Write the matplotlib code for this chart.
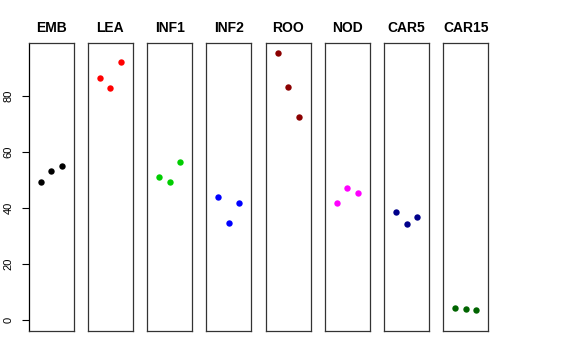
import matplotlib
matplotlib.use("Agg")
import matplotlib.pyplot as plt

plt.rcParams['font.family'] = ['Liberation Sans', 'DejaVu Sans']

groups = ["EMB", "LEA", "INF1", "INF2", "ROO", "NOD", "CAR5", "CAR15"]
colors = ["#000000", "#FF0000", "#00CD00", "#0000FF", "#8B0000", "#FF00FF", "#00008B", "#006400"]
replicates = [1, 2, 3]
emb = [49.5, 53.2, 54.9]
lea = [86.5, 82.7, 92.0]
inf1 = [51.2, 49.2, 56.5]
inf2 = [44.1, 34.6, 41.8]
roo = [95.2, 83.3, 72.5]
nod = [41.8, 47.3, 45.4]
car5 = [38.8, 34.5, 36.9]
car15 = [4.5, 3.9, 3.7]
values = [emb, lea, inf1, inf2, roo, nod, car5, car15]
yticks = [0, 20, 40, 60, 80]

W, H = 576, 360
fig = plt.figure(figsize=(W / 100, H / 100), dpi=100)

ymax = max(max(v) for v in values)
ylo, yhi = 0 - 0.04 * ymax, ymax + 0.04 * ymax

left0, step, pw = 28.7, 59.23, 45.0
top, bottom = 42.7, 331.0
for i, (g, c, v) in enumerate(zip(groups, colors, values)):
    left = left0 + step * i
    ax = fig.add_axes([left / W, 1 - bottom / H, pw / W, (bottom - top) / H])
    ax.plot(replicates, v, 'o', color=c, markersize=4.6, markeredgewidth=0)
    ax.set_xlim(-0.16, 4.16)
    ax.set_ylim(ylo, yhi)
    ax.set_xticks([])
    for s in ax.spines.values():
        s.set_color("#333333")
        s.set_linewidth(0.9)
    if i == 0:
        ax.spines['left'].set_color('black')
        ax.set_yticks(yticks)
        ax.set_yticklabels([str(t) for t in yticks], rotation=90, va='center', fontsize=8)
        ax.tick_params(axis='y', length=5, width=0.8, pad=6, color='black')
    else:
        ax.set_yticks([])
    ax.set_title(g, fontsize=10, fontweight='bold', pad=8)

fig.savefig("out.png", dpi=100)
